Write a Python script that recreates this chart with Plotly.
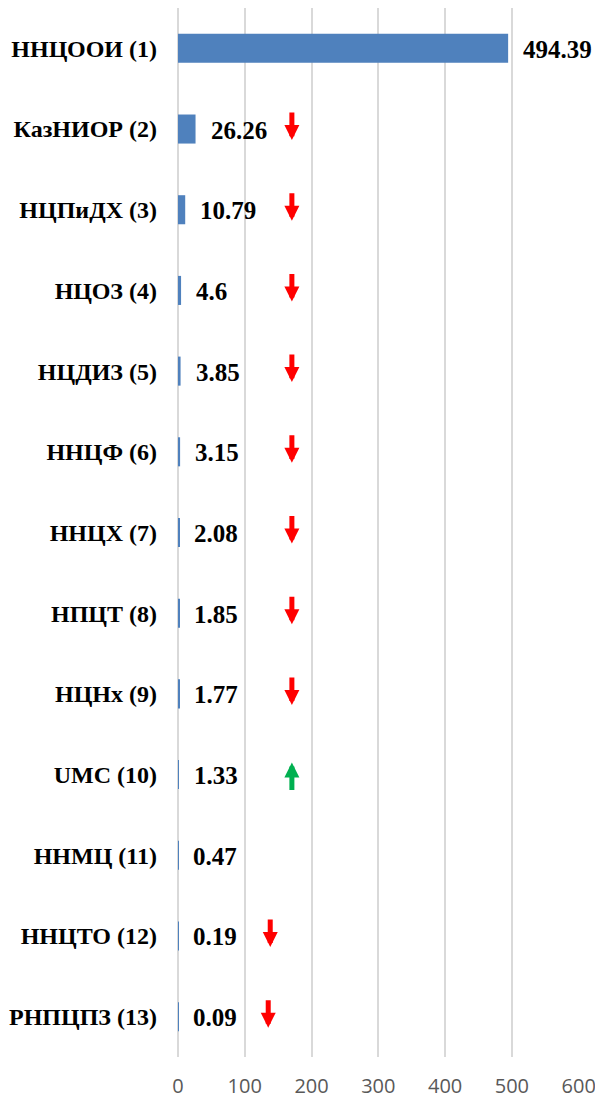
import plotly.graph_objects as go

# ---- data ----
categories = ["ННЦООИ (1)", "КазНИОР (2)", "НЦПиДХ (3)", "НЦОЗ (4)", "НЦДИЗ (5)",
              "ННЦФ (6)", "ННЦХ (7)", "НПЦТ (8)", "НЦНх (9)", "UMC (10)",
              "ННМЦ (11)", "ННЦТО (12)", "РНПЦПЗ (13)"]
values = [494.39, 26.26, 10.79, 4.6, 3.85, 3.15, 2.08, 1.85, 1.77, 1.33, 0.47, 0.19, 0.09]
value_labels = ["494.39", "26.26", "10.79", "4.6", "3.85", "3.15", "2.08", "1.85",
                "1.77", "1.33", "0.47", "0.19", "0.09"]
trend = ["up", "down", "down", "down", "down", "down", "down", "down", "down", "up",
         None, "down", "down"]
x_ticks = [0, 100, 200, 300, 400, 500, 600]

# ---- style / placement ----
BAR_COLOR = "#4F81BD"
X_MAX = 600.5
# horizontal placement of the trend arrows, as a fraction of the plot width
ARROW_POS = [1.067, 0.284, 0.284, 0.284, 0.284, 0.284, 0.284, 0.284, 0.284, 0.284,
             None, 0.230, 0.225]
COLORS = {"up": "#00B050", "down": "#FF0000"}

fig = go.Figure()
fig.add_trace(go.Bar(
    x=values, y=categories, orientation="h",
    marker=dict(color=BAR_COLOR, line=dict(width=0)),
    width=0.36, hoverinfo="skip",
))

annotations = []
for cat, v, lab in zip(categories, values, value_labels):
    annotations.append(dict(
        x=v, y=cat, xref="x", yref="y", text=lab, showarrow=False,
        xanchor="left", yanchor="middle", xshift=13, yshift=-1,
        font=dict(family="Liberation Serif", size=25, color="#000000", weight="bold"),
    ))

for cat, t, px in zip(categories, trend, ARROW_POS):
    if t is None:
        continue
    down = t == "down"
    annotations.append(dict(
        x=px, y=cat, xref="paper", yref="y", text="", showarrow=True,
        ax=0, ay=-29 if down else 29, axref="pixel", ayref="pixel",
        yshift=-11 if down else 12,
        arrowhead=2, arrowsize=0.6, arrowwidth=5, arrowcolor=COLORS[t],
    ))

# page body adds an 8px offset; size the figure to fill the rest of the window
fig.update_layout(
    width=595, height=1092,
    margin=dict(l=170, r=24, t=0, b=43, pad=0),
    paper_bgcolor="white", plot_bgcolor="white",
    showlegend=False,
    bargap=0.64,
    annotations=annotations,
    xaxis=dict(
        range=[0, X_MAX], tickvals=x_ticks, ticktext=[str(t) for t in x_ticks],
        showgrid=True, gridcolor="#D9D9D9", gridwidth=2,
        zeroline=True, zerolinecolor="#D9D9D9", zerolinewidth=2,
        showline=False, ticks="", ticklabelstandoff=15, automargin=False,
        tickfont=dict(family="Open Sans", size=20, color="#595959"),
        fixedrange=True,
    ),
    yaxis=dict(
        categoryorder="array", categoryarray=categories, autorange="reversed",
        showgrid=False, zeroline=False, showline=False, ticks="",
        ticklabelstandoff=20, automargin=False,
        tickfont=dict(family="Liberation Serif", size=24, color="#000000", weight="bold"),
        fixedrange=True,
    ),
)

fig.write_html("out.html")
